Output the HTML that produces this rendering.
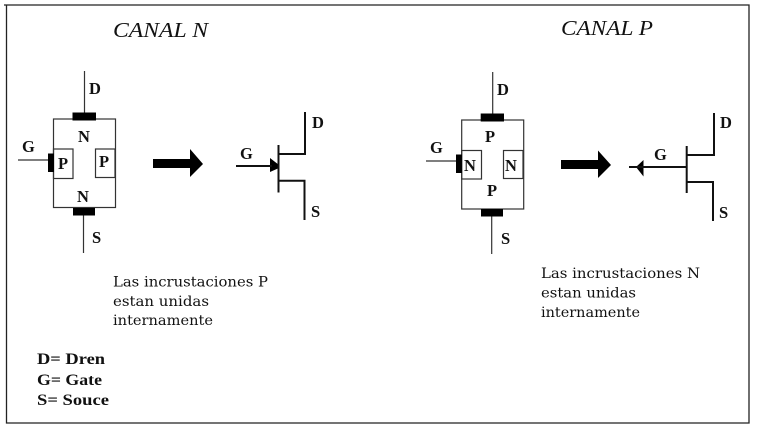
<!DOCTYPE html>
<html><head><meta charset="utf-8"><style>
html,body{margin:0;padding:0;background:#fff;width:759px;height:431px;overflow:hidden}
svg{display:block;filter:blur(.3px)}
text{fill:#111}
.t{font:italic 21px "Liberation Serif",serif}
.b{font:14px "DejaVu Serif","Liberation Serif",serif}
.l{font:bold 16px "Liberation Serif",serif}
.k{font:bold 16.5px "Liberation Serif",serif}
</style></head><body>
<svg width="759" height="431" viewBox="0 0 759 431" xmlns="http://www.w3.org/2000/svg">
<rect width="759" height="431" fill="#fff"/>
<path d="M4 5H749V423H6.500V5" fill="none" stroke="#222" stroke-width="1.300"/>
<g fill="none" stroke="#333" stroke-width="1.200">
<rect x="53.500" y="119" width="62" height="88.500"/>
<rect x="53.500" y="149" width="19.500" height="29.500"/>
<rect x="95.500" y="149" width="19.500" height="28.500"/>
<path d="M84.500 71V113M83.500 215V253M18 160H48"/>
<rect x="461.700" y="120" width="62" height="89"/>
<rect x="461.700" y="150.500" width="19.800" height="28.500"/>
<rect x="503.500" y="150.500" width="19.500" height="28"/>
<path d="M492.700 72V114M491.700 216V254M426 161H456"/>
</g>
<g fill="#000">
<rect x="72.500" y="112.500" width="23.500" height="8"/>
<rect x="73" y="208" width="22" height="7.500"/>
<rect x="48" y="153.500" width="6" height="18.500"/>
<path d="M153 159H190V149L203 164L190 177V168H153Z"/>
<path d="M270 158L279 165V168L270 172Z"/>
<rect x="480.700" y="113.500" width="23.300" height="8"/>
<rect x="481" y="209" width="22" height="7.500"/>
<rect x="456" y="154.500" width="6" height="18.500"/>
<path d="M561 160H598V150.500L611 165L598 178V169H561Z"/>
<path d="M636 167L643.500 160V176.500Z"/>
</g>
<g fill="none" stroke="#111" stroke-width="2">
<path d="M278.500 145V192.500M278.500 154H305V112M279 180.700H304.500V220M236 166H272"/>
<path d="M686.700 146V193M686.700 155H714V113M687 182H713V221M629 167H686"/>
</g>
<text class="t" x="113" y="37" textLength="95" lengthAdjust="spacingAndGlyphs">CANAL N</text>
<text class="t" x="561" y="35" textLength="92" lengthAdjust="spacingAndGlyphs">CANAL P</text>
<text class="b" x="113" y="286.500" textLength="155" lengthAdjust="spacingAndGlyphs">Las incrustaciones P</text>
<text class="b" x="113" y="306" textLength="96" lengthAdjust="spacingAndGlyphs">estan unidas</text>
<text class="b" x="113" y="325" textLength="100" lengthAdjust="spacingAndGlyphs">internamente</text>
<text class="b" x="541" y="278" textLength="159" lengthAdjust="spacingAndGlyphs">Las incrustaciones N</text>
<text class="b" x="541" y="297.500" textLength="95" lengthAdjust="spacingAndGlyphs">estan unidas</text>
<text class="b" x="541" y="317" textLength="99" lengthAdjust="spacingAndGlyphs">internamente</text>
<text class="l" x="37" y="364" textLength="68" lengthAdjust="spacingAndGlyphs">D= Dren</text>
<text class="l" x="37" y="385" textLength="65" lengthAdjust="spacingAndGlyphs">G= Gate</text>
<text class="l" x="37" y="405" textLength="72" lengthAdjust="spacingAndGlyphs">S= Souce</text>
<text class="k" x="89" y="94">D</text>
<text class="k" x="78" y="142">N</text>
<text class="k" x="22" y="152">G</text>
<text class="k" x="58" y="169">P</text>
<text class="k" x="99" y="167">P</text>
<text class="k" x="77" y="202">N</text>
<text class="k" x="92" y="243">S</text>
<text class="k" x="312" y="128">D</text>
<text class="k" x="240" y="159">G</text>
<text class="k" x="311" y="217">S</text>
<text class="k" x="497" y="95">D</text>
<text class="k" x="485" y="142">P</text>
<text class="k" x="430" y="153">G</text>
<text class="k" x="464" y="171">N</text>
<text class="k" x="505" y="171">N</text>
<text class="k" x="487" y="196">P</text>
<text class="k" x="501" y="244">S</text>
<text class="k" x="720" y="128">D</text>
<text class="k" x="654" y="160">G</text>
<text class="k" x="719" y="218">S</text>
</svg>
</body></html>
